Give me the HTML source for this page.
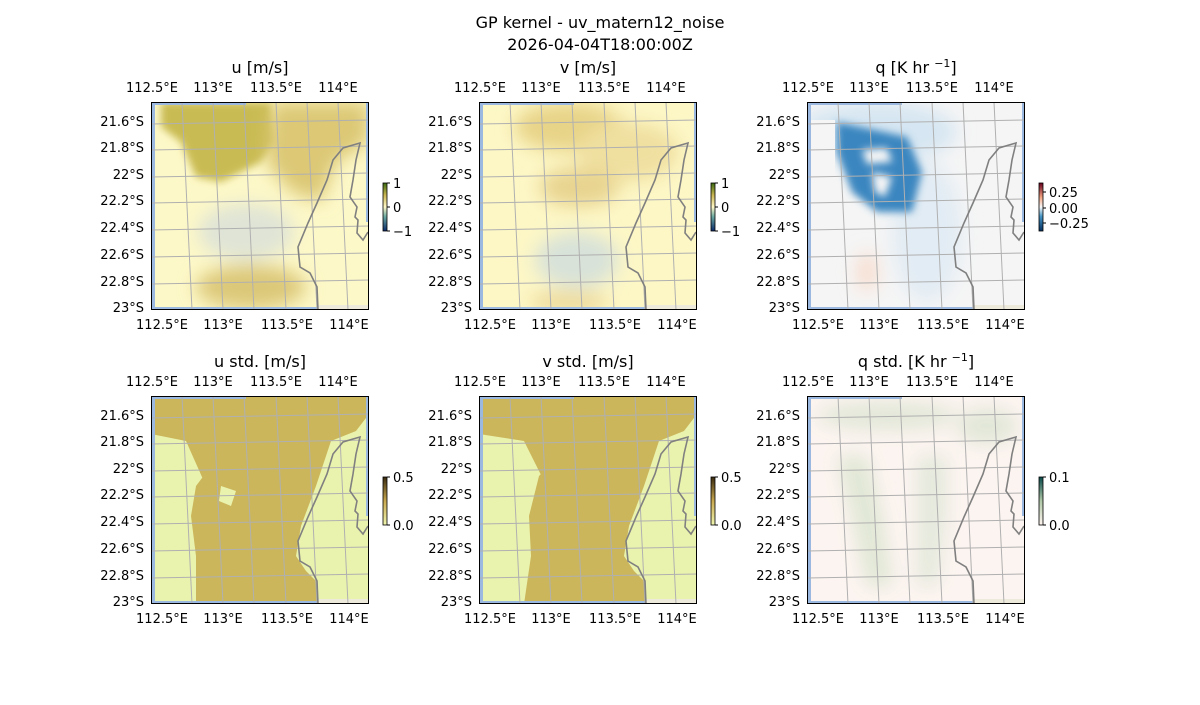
<!DOCTYPE html>
<html><head><meta charset="utf-8"><style>
body{margin:0;background:#fff}
svg text{font-family:"DejaVu Sans","Liberation Sans",sans-serif;fill:#000}
</style></head><body>
<svg id="s" width="1200" height="700" xmlns="http://www.w3.org/2000/svg">
<defs>
<filter id="b" x="-50%" y="-50%" width="200%" height="200%"><feGaussianBlur stdDeviation="9"/></filter>
<filter id="b2" x="-50%" y="-50%" width="200%" height="200%"><feGaussianBlur stdDeviation="4"/></filter>
<linearGradient id="g1" x1="0" y1="1" x2="0" y2="0"><stop offset="0" stop-color="#0a2a6a"/><stop offset="0.3" stop-color="#6aa8a0"/><stop offset="0.5" stop-color="#fff8c8"/><stop offset="0.75" stop-color="#c8b450"/><stop offset="1" stop-color="#3a6a10"/></linearGradient>
<linearGradient id="g2" x1="0" y1="1" x2="0" y2="0"><stop offset="0" stop-color="#053061"/><stop offset="0.3" stop-color="#4393c3"/><stop offset="0.5" stop-color="#f7f7f7"/><stop offset="0.7" stop-color="#f4a582"/><stop offset="1" stop-color="#67001f"/></linearGradient>
<linearGradient id="g3" x1="0" y1="1" x2="0" y2="0"><stop offset="0" stop-color="#f0f6b0"/><stop offset="0.5" stop-color="#c8a850"/><stop offset="1" stop-color="#3a2a10"/></linearGradient>
<linearGradient id="g4" x1="0" y1="1" x2="0" y2="0"><stop offset="0" stop-color="#fff5f0"/><stop offset="0.5" stop-color="#b0c8a8"/><stop offset="1" stop-color="#0a4a4a"/></linearGradient>
<clipPath id="c"><rect width="218" height="208"/></clipPath>
</defs>
<text x="600" y="28" font-size="16" text-anchor="middle">GP kernel - uv_matern12_noise</text>
<text x="600" y="50" font-size="16" text-anchor="middle">2026-04-04T18:00:00Z</text>
</svg>
<script>
const s=document.getElementById('s');
const coast="M217,130 L212,138 L206,131 L207,118 L204,115 L206,105 L199,95 L202,78 L205,58 L209,41 L202,43 L192,46 L182,58 L176,78 L166,101 L157,121 L147,145 L149,165 L159,171 L166,185 L167,208";
const fields={
u:`<rect width="218" height="208" fill="#fdf8c8"/>
<g filter="url(#b2)"><path d="M20,0 L120,0 L125,40 L110,60 L90,70 L70,80 L45,75 L30,40 L10,25 L10,0Z" fill="#c9bb52"/></g>
<g filter="url(#b)"><path d="M120,0 L218,0 L218,40 L185,60 L170,100 L140,90 L115,60Z" fill="#dcc874"/>
<ellipse cx="95" cy="130" rx="48" ry="28" fill="#dfe4d6"/>
<ellipse cx="100" cy="185" rx="55" ry="22" fill="#dcc878"/></g>`,
v:`<rect width="218" height="208" fill="#fdf7c6"/>
<g filter="url(#b)"><ellipse cx="90" cy="25" rx="55" ry="25" fill="#e8d488"/>
<ellipse cx="150" cy="50" rx="50" ry="30" fill="#f0e0a0"/>
<ellipse cx="100" cy="85" rx="40" ry="20" fill="#e8d490"/>
<ellipse cx="98" cy="158" rx="42" ry="28" fill="#d8e2d8"/>
<ellipse cx="90" cy="200" rx="40" ry="10" fill="#ecd898"/></g>`,
q:`<rect width="218" height="208" fill="#f5f5f5"/>
<g filter="url(#b)"><ellipse cx="70" cy="30" rx="80" ry="30" fill="#d6e6f2"/>
<ellipse cx="120" cy="130" rx="35" ry="70" fill="#e2ecf4"/>
<ellipse cx="60" cy="170" rx="10" ry="20" fill="#f8dccc"/></g>
<g filter="url(#b2)"><path d="M30,20 L100,35 L115,70 L105,110 L70,110 L45,90 L30,50Z" fill="#3a86c0"/></g>
<path d="M55,48 L80,46 L85,60 L60,62Z M65,70 L85,75 L78,95 L68,90Z" fill="#f5f5f5" filter="url(#b2)"/>
<rect x="0" y="18" width="28" height="70" fill="#f5f5f5"/>`,
us:`<rect width="218" height="208" fill="#eaf3ae"/>
<path d="M0,0 L218,0 L218,18 L205,35 L180,45 L165,90 L150,130 L145,160 L155,175 L165,185 L167,208 L45,208 L45,160 L40,120 L45,90 L60,70 L90,50 L100,75 L85,100 L55,90 L35,45 L0,38Z" fill="#cbb65c"/>
<path d="M70,90 L85,95 L80,110 L68,105Z" fill="#eaf3ae"/>`,
vs:`<rect width="218" height="208" fill="#eaf3ae"/>
<path d="M0,0 L218,0 L218,18 L205,35 L180,45 L165,90 L150,130 L145,160 L155,175 L165,185 L167,208 L45,208 L52,160 L50,120 L60,80 L80,60 L100,75 L95,100 L65,85 L45,45 L0,38Z" fill="#cbb65c"/>`,
qs:`<rect width="218" height="208" fill="#fcf4f0"/>
<g filter="url(#b)" opacity="0.9"><ellipse cx="80" cy="20" rx="70" ry="14" fill="#dfe6d6"/>
<ellipse cx="180" cy="30" rx="30" ry="18" fill="#dfe6d6"/>
<path d="M30,60 L60,60 L75,120 L85,190 L60,190 L45,120Z" fill="#dde6d2"/>
<path d="M110,60 L140,60 L140,120 L130,190 L110,190 L110,120Z" fill="#e2e8da"/></g>`
};
const panels=[
[151,102,'u [m/s]','u','g1',['1','0','−1'],[0,24,48]],
[479,102,'v [m/s]','v','g1',['1','0','−1'],[0,24,48]],
[807,102,'q [K hr <tspan baseline-shift="super" font-size="11">−1</tspan>]','q','g2',['0.25','0.00','−0.25'],[9,25,40]],
[151,396,'u std. [m/s]','us','g3',['0.5','0.0'],[0,48]],
[479,396,'v std. [m/s]','vs','g3',['0.5','0.0'],[0,48]],
[807,396,'q std. [K hr <tspan baseline-shift="super" font-size="11">−1</tspan>]','qs','g4',['0.1','0.0'],[0,48]]];
let h='';
for(const [X,Y,t,f,g,cl,cy] of panels){
 h+=`<text x="${X+109}" y="${Y-29}" font-size="16" text-anchor="middle">${t}</text>`;
 [['112.5°E',1],['113°E',62],['113.5°E',125],['114°E',187]].forEach(([l,x])=>h+=`<text x="${X+x}" y="${Y-10}" font-size="13" text-anchor="middle">${l}</text>`);
 [['112.5°E',11],['113°E',72],['113.5°E',136],['114°E',198]].forEach(([l,x])=>h+=`<text x="${X+x}" y="${Y+227}" font-size="13" text-anchor="middle">${l}</text>`);
 ['21.6°S','21.8°S','22°S','22.2°S','22.4°S','22.6°S','22.8°S','23°S'].forEach((l,i)=>{const y=[19,45,72,98,125,152,179,205][i];h+=`<text x="${X-7}" y="${Y+y+5}" font-size="13" text-anchor="end">${l}</text>`});
 h+=`<g transform="translate(${X},${Y})"><g clip-path="url(#c)">${fields[f]}
 <rect x="0" y="0" width="4" height="208" fill="#9ab8e0"/><rect x="0" y="0" width="95" height="3" fill="#9ab8e0"/>
 <rect x="0" y="205" width="167" height="3" fill="#9ab8e0"/><rect x="215" y="0" width="3" height="120" fill="#9ab8e0"/>
 <rect x="167" y="203" width="51" height="5" fill="#eeeadb"/>`;
 for(const x of [31,62,93,125,156,187]) h+=`<line x1="${x}" y1="0" x2="${x+10}" y2="208" stroke="#b0b0b0" stroke-width="1"/>`;
 for(const y of [20,46,73,99,126,153,180]) h+=`<line x1="0" y1="${y+2}" x2="218" y2="${y-2}" stroke="#b0b0b0" stroke-width="1"/>`;
 h+=`<path d="${coast}" fill="none" stroke="#808080" stroke-width="1.6"/></g>
 <rect x="0.5" y="0.5" width="217" height="207" fill="none" stroke="#000" stroke-width="1"/></g>`;
 const cx=X+232,cyy=Y+81;
 h+=`<rect x="${cx}" y="${cyy}" width="4" height="48" fill="url(#${g})" stroke="#000" stroke-width="0.8"/>`;
 cl.forEach((l,i)=>{h+=`<line x1="${cx+4}" y1="${cyy+cy[i]}" x2="${cx+7}" y2="${cyy+cy[i]}" stroke="#000"/><text x="${cx+10}" y="${cyy+cy[i]+5}" font-size="13">${l}</text>`});
}
s.insertAdjacentHTML('beforeend',h);
</script>
</body></html>
